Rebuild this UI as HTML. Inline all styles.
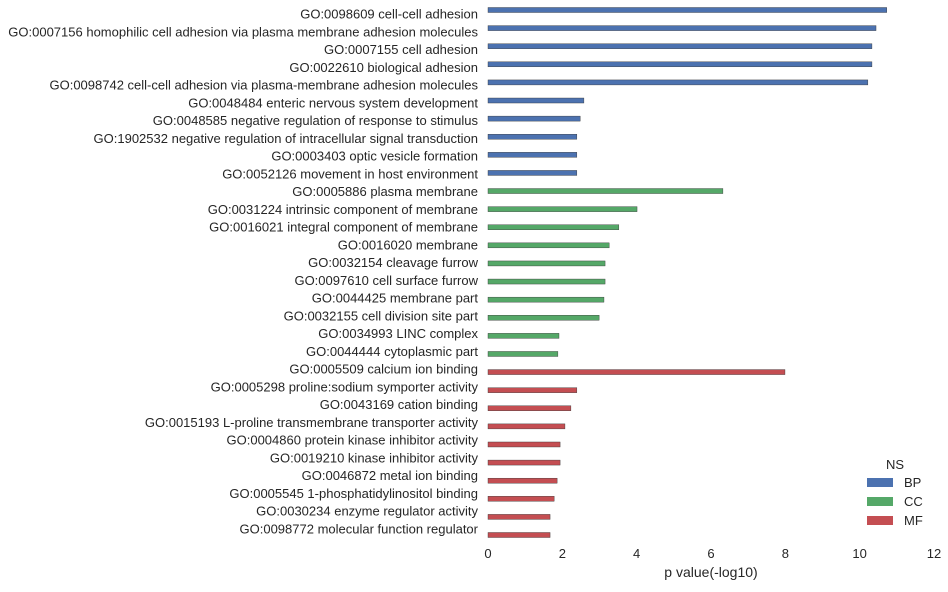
<!DOCTYPE html>
<html><head><meta charset="utf-8"><style>
body{margin:0;background:#fff;font-family:"Liberation Sans",sans-serif;}
</style></head><body>
<svg id="chart" width="948" height="587" xmlns="http://www.w3.org/2000/svg"></svg>
<script>
const categories=["GO:0098609 cell-cell adhesion","GO:0007156 homophilic cell adhesion via plasma membrane adhesion molecules","GO:0007155 cell adhesion","GO:0022610 biological adhesion","GO:0098742 cell-cell adhesion via plasma-membrane adhesion molecules","GO:0048484 enteric nervous system development","GO:0048585 negative regulation of response to stimulus","GO:1902532 negative regulation of intracellular signal transduction","GO:0003403 optic vesicle formation","GO:0052126 movement in host environment","GO:0005886 plasma membrane","GO:0031224 intrinsic component of membrane","GO:0016021 integral component of membrane","GO:0016020 membrane","GO:0032154 cleavage furrow","GO:0097610 cell surface furrow","GO:0044425 membrane part","GO:0032155 cell division site part","GO:0034993 LINC complex","GO:0044444 cytoplasmic part","GO:0005509 calcium ion binding","GO:0005298 proline:sodium symporter activity","GO:0043169 cation binding","GO:0015193 L-proline transmembrane transporter activity","GO:0004860 protein kinase inhibitor activity","GO:0019210 kinase inhibitor activity","GO:0046872 metal ion binding","GO:0005545 1-phosphatidylinositol binding","GO:0030234 enzyme regulator activity","GO:0098772 molecular function regulator"];
const values=[10.73,10.44,10.33,10.33,10.22,2.58,2.48,2.39,2.39,2.39,6.32,4.01,3.52,3.26,3.15,3.15,3.12,2.99,1.91,1.88,7.99,2.39,2.23,2.07,1.94,1.94,1.86,1.78,1.67,1.67];
const namespaces=["BP","BP","BP","BP","BP","BP","BP","BP","BP","BP","CC","CC","CC","CC","CC","CC","CC","CC","CC","CC","MF","MF","MF","MF","MF","MF","MF","MF","MF","MF"];
const xTicks=[0,2,4,6,8,10,12];
const nsNames=["BP","CC","MF"];
const colors={BP:"#4c72b0",CC:"#55a868",MF:"#c44e52"};
const svg=document.getElementById('chart');
const NS="http://www.w3.org/2000/svg";
const x=v=>488+v*(934-488)/12;
const yBar=i=>10+i*(535-10)/29;
const yLab=i=>14+i*(529-14)/29;
function mk(t,a){const e=document.createElementNS(NS,t);for(const k in a)e.setAttribute(k,a[k]);svg.appendChild(e);return e;}
categories.forEach((c,i)=>{
  const r=mk('rect',{x:x(0),y:yBar(i)-2.5,width:x(values[i])-x(0),height:5,fill:colors[namespaces[i]],stroke:"#333","stroke-width":0.4});
  
  
  const t=mk('text',{x:478,y:yLab(i)+4.5,"text-anchor":"end","font-size":13,fill:"#262626"});
  t.textContent=c;
  
  
});
xTicks.forEach(v=>{
  const t=mk('text',{x:x(v),y:558,"text-anchor":"middle","font-size":13,fill:"#262626"});
  t.textContent=v;
  
  
});
const xt=mk('text',{x:711,y:577,"text-anchor":"middle","font-size":14,fill:"#262626"});
xt.textContent="p value(-log10)";


const lt=mk('text',{x:895,y:469,"text-anchor":"middle","font-size":13,fill:"#262626"});
lt.textContent="NS";


nsNames.forEach((n,i)=>{
  const y=478+i*19;
  const r=mk('rect',{x:867,y:y,width:26,height:9,fill:colors[n]});
  
  
  const t=mk('text',{x:904,y:y+9,"font-size":13,fill:"#262626"});
  t.textContent=n;
  
  
});
</script>
</body></html>
